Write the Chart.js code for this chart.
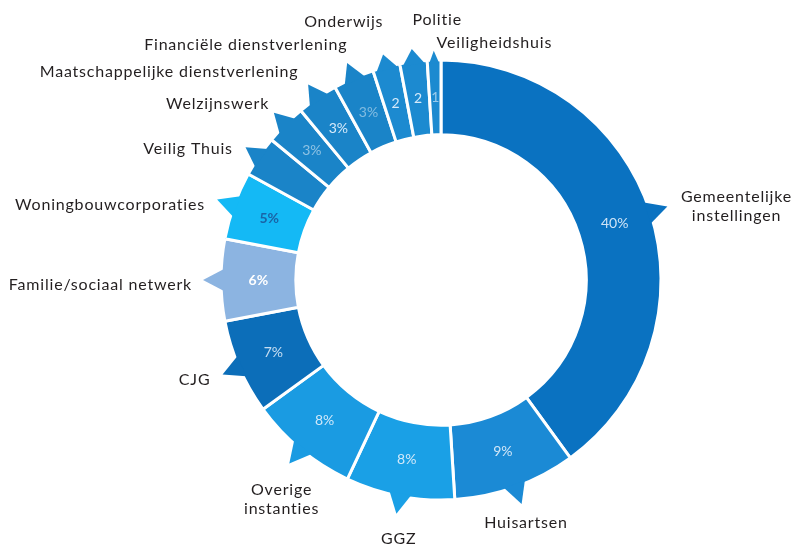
<!DOCTYPE html>
<html>
<head>
<meta charset="utf-8">
<script src="https://cdn.jsdelivr.net/npm/chart.js@4/dist/chart.umd.min.js"></script>
<style>
  html, body { margin: 0; padding: 0; background: #fff; }
  #wrap { width: 794px; height: 545px; }
</style>
</head>
<body>
<div id="wrap"><canvas id="chart" width="794" height="545"></canvas></div>
<script>
// data, clockwise from the top
const categories = [
  ["Gemeentelijke", "instellingen"],
  ["Huisartsen"],
  ["GGZ"],
  ["Overige", "instanties"],
  ["CJG"],
  ["Familie/sociaal netwerk"],
  ["Woningbouwcorporaties"],
  ["Veilig Thuis"],
  ["Welzijnswerk"],
  ["Maatschappelijke dienstverlening"],
  ["Financiële dienstverlening"],
  ["Onderwijs"],
  ["Politie"],
  ["Veiligheidshuis"]
];
const shares = [40, 9, 8, 8, 7, 6, 5, 3, 3, 3, 3, 2, 2, 1];
const shareLabels = ["40%", "9%", "8%", "8%", "7%", "6%", "5%", "", "3%", "3%", "3%", "2", "2", "1"];

// styles
const sliceColors = [
  "#0a72c1", "#1b8ad5", "#1aa0e6", "#1a9be2", "#0c6eb9", "#8cb4e1", "#14b9f5",
  "#1a84c8", "#1a84c8", "#1a84c8", "#1a84c8", "#1c8ad0", "#1c8ad0", "#1c8ad0"
];
const shareColors = [
  "rgba(230,241,252,0.9)", "rgba(230,241,252,0.9)", "rgba(230,241,252,0.9)", "rgba(230,241,252,0.9)",
  "rgba(230,241,252,0.85)", "#ffffff", "#1a64a6", "", "rgba(255,255,255,0.5)",
  "rgba(235,245,255,0.9)", "rgba(255,255,255,0.45)", "rgba(235,245,255,0.9)",
  "rgba(235,245,255,0.9)", "rgba(235,245,255,0.6)"
];

// where each category label sits, relative to the callout tip
const labelPlacement = [
  { align: "center", dx: 71, dy: -10 },
  { align: "center", dx: 5, dy: 21 },
  { align: "center", dx: 2, dy: 27 },
  { align: "center", dx: -9, dy: 28 },
  { align: "right", dx: -14, dy: 6 },
  { align: "right", dx: -13, dy: 5 },
  { align: "right", dx: -14, dy: 5 },
  { align: "right", dx: -13, dy: 1 },
  { align: "right", dx: -5, dy: -9 },
  { align: "right", dx: -10, dy: -13 },
  { align: "right", dx: 0, dy: -19 },
  { align: "right", dx: 1, dy: -30 },
  { align: "left", dx: 1, dy: -26 },
  { align: "left", dx: 3, dy: -1 }
];

const calloutPlugin = {
  id: "callouts",
  afterDatasetsDraw(chart) {
    const ctx = chart.ctx;
    const arcs = chart.getDatasetMeta(0).data;
    ctx.save();
    arcs.forEach((arc, i) => {
      const { x, y, startAngle, endAngle, innerRadius, outerRadius } =
        arc.getProps(["x", "y", "startAngle", "endAngle", "innerRadius", "outerRadius"], true);
      const mid = (startAngle + endAngle) / 2;
      const halfArc = (endAngle - startAngle) / 2 * outerRadius;
      const w = Math.max(Math.min(11, halfArc - 2), 2);
      const len = Math.min(18, 6 + halfArc * 0.5);
      const baseR = outerRadius - 3;
      const cos = Math.cos(mid), sin = Math.sin(mid);
      const bx = x + baseR * cos, by = y + baseR * sin;
      // triangle pointer
      ctx.fillStyle = sliceColors[i];
      ctx.beginPath();
      ctx.moveTo(bx - sin * w, by + cos * w);
      ctx.lineTo(bx + sin * w, by - cos * w);
      ctx.lineTo(x + (outerRadius + len) * cos, y + (outerRadius + len) * sin);
      ctx.closePath();
      ctx.fill();

      // share inside the ring
      const midR = (innerRadius + outerRadius) / 2;
      ctx.letterSpacing = "0px";
      if (shareLabels[i]) {
        const bold = i === 5 || i === 6;
        ctx.font = (bold ? "bold " : "") + "14px Lato";
        ctx.fillStyle = shareColors[i];
        ctx.textAlign = "center";
        ctx.textBaseline = "middle";
        ctx.fillText(shareLabels[i], x + midR * cos, y + midR * sin);
      }

      // category label
      const ax = x + (outerRadius + 16) * cos;
      const ay = y + (outerRadius + 16) * sin;
      const p = labelPlacement[i];
      ctx.font = "16px Lato";
      ctx.letterSpacing = "0.8px";
      ctx.fillStyle = "#231f20";
      ctx.textAlign = p.align;
      ctx.textBaseline = "middle";
      categories[i].forEach((line, k) => {
        ctx.fillText(line, ax + p.dx, ay + p.dy + k * 19);
      });
    });
    ctx.restore();
  }
};

new Chart(document.getElementById("chart"), {
  type: "doughnut",
  data: {
    labels: categories.map(c => c.join(" ")),
    datasets: [{
      data: shares,
      backgroundColor: sliceColors,
      borderColor: "#ffffff",
      borderWidth: 3
    }]
  },
  options: {
    responsive: false,
    animation: false,
    radius: 220,
    cutout: "66%",
    layout: { padding: { left: 221, right: 133, top: 60, bottom: 45 } },
    plugins: {
      legend: { display: false },
      tooltip: { enabled: false }
    }
  },
  plugins: [calloutPlugin]
});
</script>
</body>
</html>
